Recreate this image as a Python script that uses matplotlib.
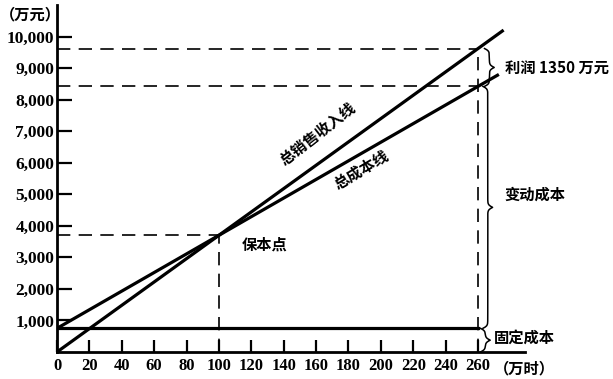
import matplotlib.pyplot as plt
import numpy as np

# 数据 (万时 / 万元)
x_ticks = [0, 20, 40, 60, 80, 100, 120, 140, 160, 180, 200, 220, 240, 260]
y_ticks = [1000, 2000, 3000, 4000, 5000, 6000, 7000, 8000, 9000, 10000]
y_labels = ["1,000", "2,000", "3,000", "4,000", "5,000",
            "6,000", "7,000", "8,000", "9,000", "10,000"]
price = 37.0          # 单位收入
unit_cost = 29.5      # 单位变动成本
fixed_cost = 750      # 固定成本
breakeven_x = 100
volume = 260
revenue_end = 275
cost_end = 272

CJK = ['Noto Sans CJK SC', 'DejaVu Sans']
NUM = 'Liberation Serif'


def brace(ax, x, y0, y1, w):
    # 竖直的右向大括号
    n = 201
    span_px = (y1 - y0) / 1000 * 31.5
    beta = 4 * span_px / 5
    t = np.linspace(0, 1, n)
    half = t[:n // 2 + 1]
    bh = 1 / (1 + np.exp(-beta * (half - half[0]))) + 1 / (1 + np.exp(-beta * (half - half[-1])))
    c = np.concatenate((bh, bh[-2::-1])) - 0.5
    ax.plot(x + w * c, y0 + t * (y1 - y0), color='black', lw=1.1, clip_on=False)


def main():
    fig = plt.figure(figsize=(6.13, 3.79), dpi=100)
    ax = fig.add_axes([57 / 613, 27 / 379, 468 / 613, 347 / 379])
    ax.set_xlim(0, 289)
    ax.set_ylim(0, 11000)

    for s in ['top', 'right']:
        ax.spines[s].set_visible(False)
    for s in ['left', 'bottom']:
        ax.spines[s].set_linewidth(2)

    ax.set_xticks(x_ticks)
    ax.set_xticklabels([str(v) for v in x_ticks], fontfamily=NUM, fontweight='bold', fontsize=12)
    ax.set_yticks(y_ticks)
    ax.set_yticklabels(y_labels, fontfamily=NUM, fontweight='bold', fontsize=12.5)
    ax.tick_params(axis='y', direction='in', length=11, width=1.6, pad=2)
    ax.tick_params(axis='x', direction='in', length=9, width=1.6, pad=4)

    # 总销售收入线 / 总成本线 / 固定成本
    xr = np.array([0, revenue_end])
    ax.plot(xr, price * xr, color='black', lw=2.3)
    xc = np.array([0, cost_end])
    ax.plot(xc, fixed_cost + unit_cost * xc, color='black', lw=2.3)
    ax.plot([0, volume], [fixed_cost, fixed_cost], color='black', lw=2.3)

    rev_v = price * volume
    cost_v = fixed_cost + unit_cost * volume
    be_y = price * breakeven_x
    dash = dict(color='black', lw=1.2, dashes=(8, 5))
    ax.plot([0, volume], [rev_v, rev_v], **dash)
    ax.plot([0, volume], [cost_v, cost_v], **dash)
    ax.plot([0, breakeven_x], [be_y, be_y], **dash)
    ax.plot([breakeven_x, breakeven_x], [0, be_y], **dash)
    ax.plot([volume, volume], [0, rev_v], **dash)

    brace(ax, volume + 4, cost_v, rev_v, 6)
    brace(ax, volume + 3, fixed_cost, cost_v, 6)
    brace(ax, volume + 1.5, 0, fixed_cost, 6)

    tk = dict(family=CJK, fontweight='bold', fontsize=11, clip_on=False)
    ax.text(161, 6900, "总销售收入线", rotation=38, ha='center', va='center', **tk)
    ax.text(188, 5780, "总成本线", rotation=31, ha='center', va='center', **tk)
    ax.text(128, 3400, "保本点", ha='center', va='center', **tk)
    ax.text(276.5, 9020, "利润 1350 万元", ha='left', va='center', **tk)
    ax.text(276.5, 4980, "变动成本", ha='left', va='center', **tk)
    ax.text(270, 440, "固定成本", ha='left', va='center', **tk)
    ax.text(270, -520, "（万时）", ha='left', va='center', **tk)
    ax.text(-35, 10700, "（万元）", ha='left', va='center', **tk)

    fig.savefig("out.png", dpi=100)


if __name__ == "__main__":
    main()
